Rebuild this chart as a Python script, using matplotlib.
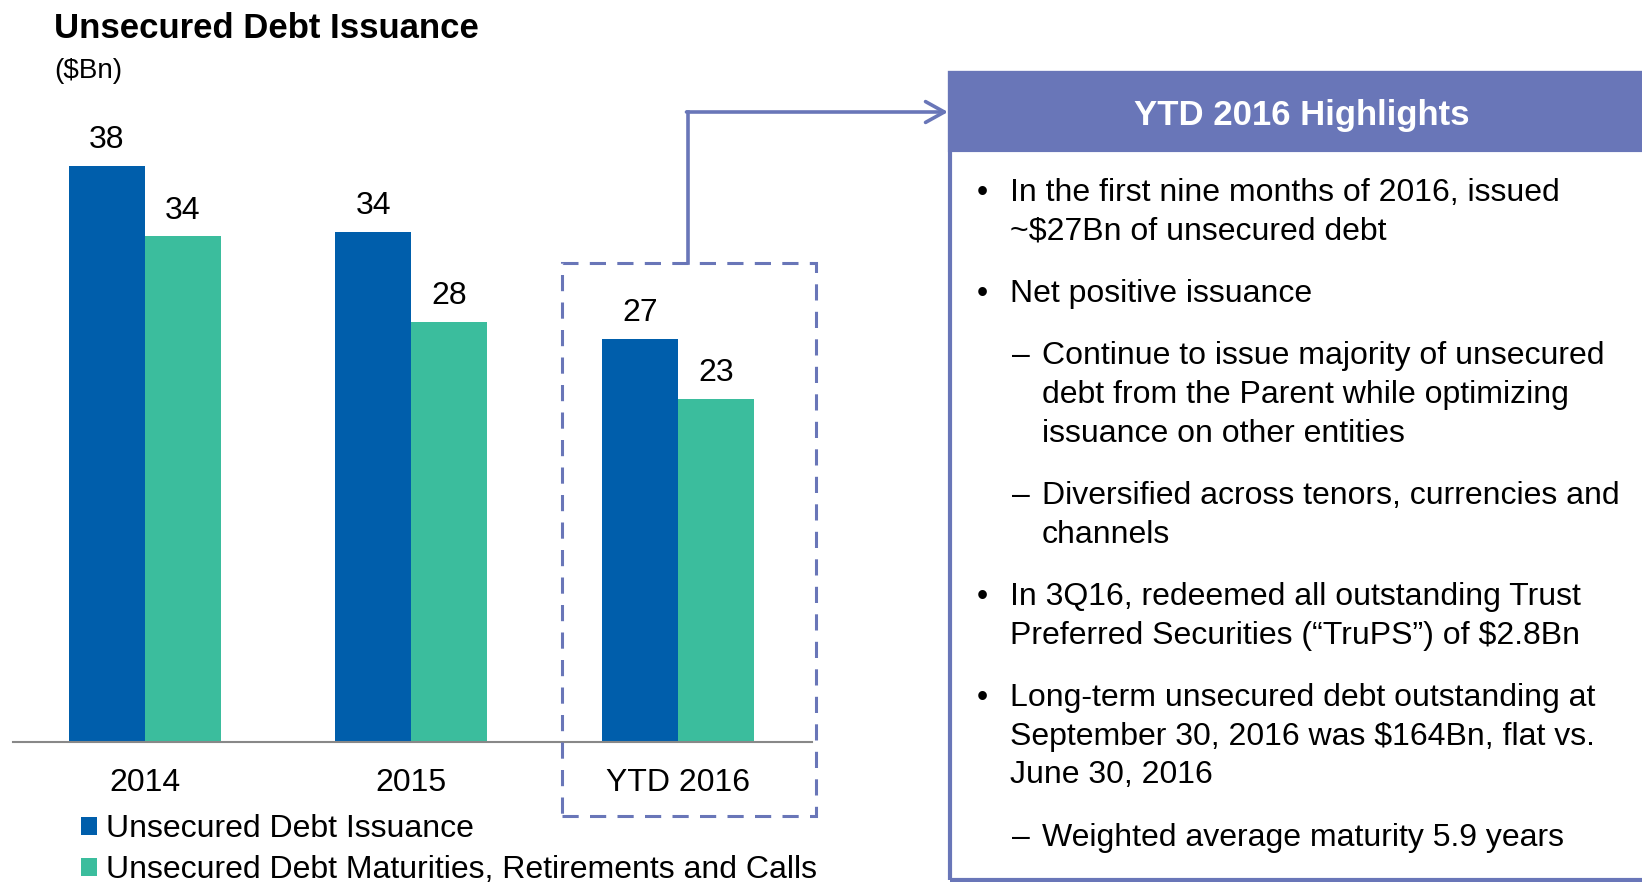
import matplotlib
matplotlib.use("Agg")
import matplotlib.pyplot as plt
from matplotlib.patches import Rectangle, FancyArrowPatch
from matplotlib.lines import Line2D

plt.rcParams['font.family'] = ['Liberation Sans', 'DejaVu Sans']

# data ($Bn)
categories = ['2014', '2015', 'YTD 2016']
issuance = [38.4, 34.0, 26.9]
maturities = [33.7, 28.0, 22.9]
series_names = ['Unsecured Debt Issuance',
                'Unsecured Debt Maturities, Retirements and Calls']

highlights_title = 'YTD 2016 Highlights'
# (indent level, lines)
highlights = [
    (0, ['In the first nine months of 2016, issued', '~$27Bn of unsecured debt']),
    (0, ['Net positive issuance']),
    (1, ['Continue to issue majority of unsecured',
         'debt from the Parent while optimizing',
         'issuance on other entities']),
    (1, ['Diversified across tenors, currencies and', 'channels']),
    (0, ['In 3Q16, redeemed all outstanding Trust',
         'Preferred Securities (\u201cTruPS\u201d) of $2.8Bn']),
    (0, ['Long-term unsecured debt outstanding at',
         'September 30, 2016 was $164Bn, flat vs.',
         'June 30, 2016']),
    (1, ['Weighted average maturity 5.9 years']),
]

BLUE = '#005EAB'
TEAL = '#3BBD9D'
SLATE = '#6976B8'

W, H = 1642, 882


def fx(px):
    return px / W


def fy(py):
    return 1 - py / H


fig = plt.figure(figsize=(W / 100, H / 100), dpi=100)

# bar chart axes, placed in pixels
ax = fig.add_axes([fx(13), fy(742), fx(812) - fx(13), (742 - 100) / H])
x = range(len(categories))
w = 0.285
b1 = ax.bar([i - w / 2 for i in x], issuance, w, color=BLUE, label=series_names[0])
b2 = ax.bar([i + w / 2 for i in x], maturities, w, color=TEAL, label=series_names[1])
for bars, vals in ((b1, issuance), (b2, maturities)):
    for r, v in zip(bars, vals):
        ax.annotate(f'{v:.0f}', (r.get_x() + r.get_width() / 2, v),
                    xytext=(0, 12.7), textcoords='offset points',
                    ha='center', va='baseline', fontsize=23)

ax.set_xlim(-0.495, 2.503)
ax.set_ylim(0, (742 - 100) / 15.0)
ax.set_xticks(list(x))
ax.set_xticklabels(categories, fontsize=23)
ax.tick_params(axis='x', length=0, pad=18.5)
ax.set_yticks([])
for s in ('top', 'left', 'right'):
    ax.spines[s].set_visible(False)
ax.spines['bottom'].set_color('#888888')
ax.spines['bottom'].set_linewidth(1.5)

ax.legend(loc='upper left', bbox_to_anchor=(fx(81), fy(814)),
          bbox_transform=fig.transFigure, frameon=False, fontsize=23,
          handlelength=0.5, handleheight=0.5, handletextpad=0.28,
          labelspacing=0.35, borderpad=0, borderaxespad=0)

# titles
fig.text(fx(54), fy(38), 'Unsecured Debt Issuance', fontsize=25,
         fontweight='bold', va='baseline')
fig.text(fx(54), fy(78), '($Bn)', fontsize=20, va='baseline')

# dashed box around YTD 2016
fig.add_artist(Rectangle((fx(562), fy(816)), fx(816) - fx(562), (816 - 263) / H,
                         transform=fig.transFigure, fill=False, ec=SLATE,
                         lw=2.2, linestyle=(0, (5.3, 3.7))))

# connector with arrow
fig.add_artist(Line2D([fx(688), fx(688)], [fy(263), fy(112)],
                      transform=fig.transFigure, color=SLATE, lw=2.6))
fig.add_artist(FancyArrowPatch((fx(686.5), fy(112)), (fx(948), fy(112)),
                               transform=fig.transFigure, color=SLATE, lw=2.6,
                               arrowstyle='->,head_length=0.45,head_width=0.25',
                               mutation_scale=30, shrinkA=0, shrinkB=0))

# highlights panel
fig.add_artist(Rectangle((fx(950), fy(880)), fx(1720) - fx(950), (880 - 73) / H,
                         transform=fig.transFigure, fill=False, ec=SLATE, lw=3))
fig.add_artist(Rectangle((fx(950), fy(150)), fx(1720) - fx(950), (150 - 73) / H,
                         transform=fig.transFigure, fc=SLATE, ec=SLATE, lw=3))
fig.text(fx(1302), fy(125), highlights_title, fontsize=25, fontweight='bold',
         color='white', ha='center', va='baseline')

y = 189.5
for level, lines in highlights:
    if level == 0:
        fig.text(fx(982), fy(y + 11.5), '\u2022', fontsize=23, ha='center', va='baseline')
        tx = 1010
    else:
        fig.text(fx(1021), fy(y + 11.5), '\u2013', fontsize=23, ha='center', va='baseline')
        tx = 1042
    for i, line in enumerate(lines):
        fig.text(fx(tx), fy(y + 11.5), line, fontsize=23, va='baseline')
        if i < len(lines) - 1:
            y += 38.7
    y += 62.3

fig.savefig('out.png', dpi=100)
